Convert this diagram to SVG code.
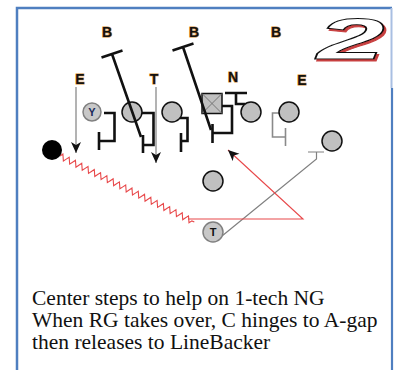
<svg xmlns="http://www.w3.org/2000/svg" width="398" height="370" viewBox="0 0 398 370">
<style>
.lbl{font-family:"Liberation Sans",Arial,sans-serif;font-weight:bold;font-size:14px;fill:#111;stroke:#d08a35;stroke-width:1.1px;paint-order:stroke;text-anchor:middle}
.pl{fill:#c0c0c0;stroke:#111;stroke-width:1.5}
.plg{fill:#c8c8c8;stroke:#808080;stroke-width:1.5}
.blk{fill:none;stroke:#111;stroke-width:2.6;stroke-linejoin:miter;stroke-linecap:butt}
.blkg{fill:none;stroke:#8a8a8a;stroke-width:1.6}
.rt{fill:none;stroke:#808080;stroke-width:1.2}
.red{fill:none;stroke:#e8484a;stroke-width:1.1}
.note{font-family:"Liberation Serif","Times New Roman",serif;font-size:21.5px;fill:#111}
.inl{font-family:"Liberation Sans",Arial,sans-serif;font-weight:bold;font-size:11px;text-anchor:middle}
</style>
<defs>
<marker id="ah" markerUnits="userSpaceOnUse" markerWidth="14" markerHeight="12" refX="11" refY="5" orient="auto">
<path d="M0,0 L11,5 L0,10 L3,5 Z" fill="#111"/>
</marker>
<filter id="shadow" x="-20%" y="-20%" width="150%" height="150%">
<feOffset in="SourceAlpha" dx="2" dy="2" result="off"/>
<feFlood flood-color="#c84040"/>
<feComposite in2="off" operator="in" result="sh"/>
<feMerge><feMergeNode in="sh"/><feMergeNode in="SourceGraphic"/></feMerge>
</filter>
</defs>
<rect width="398" height="370" fill="#fff"/>
<g id="frame">
<path d="M17,370 V8 H392" fill="none" stroke="#4f7fc0" stroke-width="2.5"/>
<path d="M391.5,8 V88" fill="none" stroke="#a9bfe2" stroke-width="2"/>
<path d="M392,88 V370" fill="none" stroke="#4f7fc0" stroke-width="2.2"/>
</g>
<g id="logo" filter="url(#shadow)">
<text x="0" y="0" transform="translate(317,59) scale(2.1,1)" font-family="Liberation Sans,Arial,sans-serif" font-weight="bold" font-style="italic" font-size="58" fill="#fff" stroke="#111" stroke-width="1.6" vector-effect="non-scaling-stroke">2</text>
</g>
<g id="labels">
<text class="lbl" x="107" y="37">B</text>
<text class="lbl" x="194" y="37">B</text>
<text class="lbl" x="276" y="37">B</text>
<text class="lbl" x="80" y="84">E</text>
<text class="lbl" x="154" y="84">T</text>
<text class="lbl" x="233" y="82">N</text>
<text class="lbl" x="302" y="85">E</text>
</g>
<g id="connectors">
<path class="rt" d="M76,87 V153" marker-end="url(#ah)"/>
<path class="rt" d="M156,87 V163" marker-end="url(#ah)"/>
<path class="blk" d="M104,113 H114.5 V141 H99 M99,132 V150"/>
<path class="blk" d="M142,113 H153.5 V145 H143 M143,135 V153"/>
<path class="blk" d="M180,118 H187.5 V141 H181 M181,133 V152"/>
<path class="blk" d="M222,106 H232 V133 H212.5 M212.5,124 V143"/>
<path class="blk" d="M245,104 H236 V93 M225,93 H247"/>
<path class="blkg" d="M279,113 H272.5 V137 H285.5 M285.5,128 V146"/>
<path class="rt" d="M222,236 L316.5,159 V152 M308,152 H324" stroke="#8a8a8a" stroke-width="1.4"/>
<path class="red" transform="translate(60,156) rotate(26.2)" d="M0,0 l1.75,-3 l3.5,6 l1.75,-3 l1.75,-3 l3.5,6 l1.75,-3 l1.75,-3 l3.5,6 l1.75,-3 l1.75,-3 l3.5,6 l1.75,-3 l1.75,-3 l3.5,6 l1.75,-3 l1.75,-3 l3.5,6 l1.75,-3 l1.75,-3 l3.5,6 l1.75,-3 l1.75,-3 l3.5,6 l1.75,-3 l1.75,-3 l3.5,6 l1.75,-3 l1.75,-3 l3.5,6 l1.75,-3 l1.75,-3 l3.5,6 l1.75,-3 l1.75,-3 l3.5,6 l1.75,-3 l1.75,-3 l3.5,6 l1.75,-3 l1.75,-3 l3.5,6 l1.75,-3 l1.75,-3 l3.5,6 l1.75,-3 l1.75,-3 l3.5,6 l1.75,-3 l1.75,-3 l3.5,6 l1.75,-3 l1.75,-3 l3.5,6 l1.75,-3 l1.75,-3 l3.5,6 l1.75,-3 l1.75,-3 l3.5,6 l1.75,-3 l1.75,-3 l3.5,6 l1.75,-3 l2.7,0"/>
<path class="red" d="M188,219 H303 L228,150" marker-end="url(#ah)"/>
</g>
<g id="players">
<g id="y"><circle class="plg" cx="92" cy="112" r="9"/><text class="inl" x="92" y="116" fill="#1a2a5a">Y</text></g>
<circle id="lt" class="pl" cx="132" cy="112" r="10"/>
<circle id="lg" class="pl" cx="172" cy="112" r="10"/>
<g id="c"><rect class="pl" x="202" y="93.5" width="20" height="20" stroke-width="1.2"/><path d="M202,93.5 L222,113.5 M222,93.5 L202,113.5" stroke="#777" stroke-width="1"/></g>
<circle id="rg" class="pl" cx="251" cy="112" r="10"/>
<circle id="rtk" class="pl" cx="289" cy="112" r="10"/>
<circle id="wing" class="pl" cx="332" cy="141" r="10"/>
<circle id="x" cx="52" cy="150" r="10" fill="#000"/>
<circle id="qb" class="pl" cx="213" cy="181" r="10"/>
<g id="t"><circle class="plg" cx="213" cy="232" r="10"/><text class="inl" x="213" y="236" font-weight="normal" font-size="12" fill="#111">T</text></g>
</g>
<g id="backers">
<path class="blk" d="M112,54 L141,137 M101.5,57.5 L122.5,50.5"/>
<path class="blk" d="M183,47 L211,130 M172.5,50.5 L193.5,43.5"/>
</g>
<g id="note">
<text class="note" x="32" y="305">Center steps to help on 1-tech NG</text>
<text class="note" x="32" y="327">When RG takes over, C hinges to A-gap</text>
<text class="note" x="32" y="349">then releases to LineBacker</text>
</g>
</svg>
